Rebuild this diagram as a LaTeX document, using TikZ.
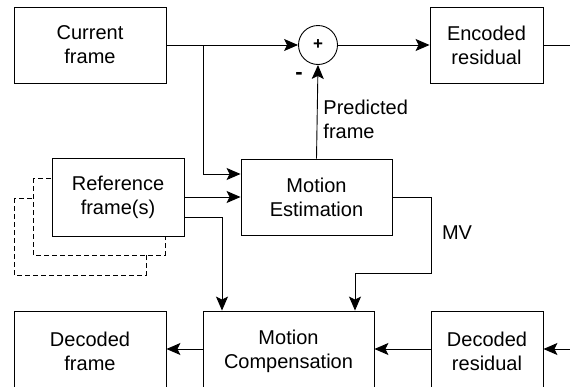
\documentclass[tikz,border=0pt]{standalone}
\usepackage{fontspec}
\setmainfont{Liberation Sans}
\usetikzlibrary{arrows.meta}
\begin{document}
\begin{tikzpicture}[x=1pt,y=-1pt,
  line width=0.9pt,
  arr/.style={-{Stealth[length=14pt,width=12pt,inset=3pt]}},
  blk/.style={draw,fill=white,rectangle,inner sep=0pt,align=center,
    font=\fontsize{20}{24}\selectfont},
  ghost/.style={draw,dashed,dash pattern=on 5pt off 3pt,fill=white},
  lbl/.style={inner sep=0pt,font=\fontsize{20}{24}\selectfont}]
\useasboundingbox (0,0) rectangle (570,386);
\clip (0,0) rectangle (570,386);

% stacked reference frames behind the main one
\draw[ghost] (14,198) rectangle (146,275);
\draw[ghost] (33,178) rectangle (165,255);

% blocks
\node[blk,minimum width=152pt,minimum height=76pt] (cur) at (90,45) {Current\\frame};
\node[draw,circle,minimum size=39pt,inner sep=0pt,font=\bfseries\fontsize{17}{18}\selectfont] (sum) at (318,45) {+};
\node[blk,minimum width=113pt,minimum height=76pt] (enc) at (486.5,45) {Encoded\\residual};
\node[blk,minimum width=132pt,minimum height=78pt] (ref) at (118,197) {Reference\\frame(s)};
\node[blk,minimum width=151pt,minimum height=76pt] (me) at (316.5,197) {Motion\\Estimation};
\node[blk,minimum width=152pt,minimum height=80pt] (dec) at (90,351) {Decoded\\frame};
\node[blk,minimum width=171pt,minimum height=80pt] (mc) at (288.5,351) {Motion\\Compensation};
\node[blk,minimum width=112pt,minimum height=80pt] (dres) at (487,351) {Decoded\\residual};

% labels
\node[lbl,anchor=west,align=left] (pf) at (323,119) {Predicted\\frame};
\node[lbl] (mv) at (457,233) {MV};
\node[lbl,font=\bfseries\fontsize{22}{24}\selectfont] (minus) at (299,76) {-};

% free ends and bends
\coordinate (encout) at (570,45);
\coordinate (resin) at (570,349);
\coordinate (split) at (203,45);
\coordinate (curme) at ([yshift=23pt]me.west);
\coordinate (refdown) at ([yshift=-20pt]ref.east);
\coordinate (mvright) at (431,197);
\coordinate (mvmid) at (431,273);
\coordinate (mcin) at (355,273);

% connectors
\draw[arr] (cur.east) -- (sum.west);
\draw[arr] (split) |- (curme);
\draw[arr] (sum.east) -- (enc.west);
\draw (enc.east) -- (encout);
\draw[arr] (me.north) -- (sum.south);
\draw[arr] (ref.east) -- (me.west);
\draw[arr] (refdown) -| (mc.north -| 222,0);
\draw[arr] (me.east) -- (mvright) -- (mvmid) -- (mcin) -- (mc.north -| mcin);
\draw[arr] (resin) -- (dres.east |- resin);
\draw[arr] (dres.west |- resin) -- (mc.east |- resin);
\draw[arr] (mc.west |- resin) -- (dec.east |- resin);
\end{tikzpicture}
\end{document}
